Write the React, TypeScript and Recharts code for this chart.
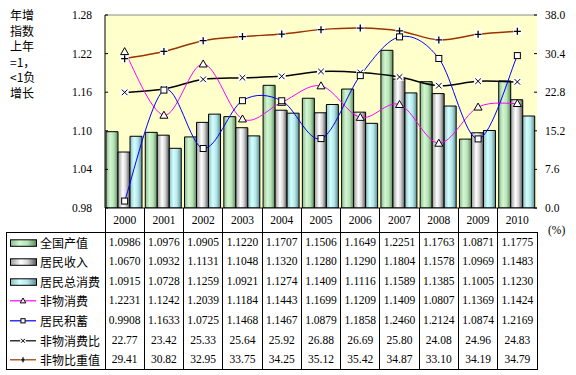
import React from "react";
import { Bar, CartesianGrid, ComposedChart, Line, ReferenceLine, XAxis, YAxis } from "recharts";

const years = ["2000", "2001", "2002", "2003", "2004", "2005", "2006", "2007", "2008", "2009", "2010"];
const gdp = [1.0986, 1.0976, 1.0905, 1.122, 1.1707, 1.1506, 1.1649, 1.2251, 1.1763, 1.0871, 1.1775];
const income = [1.067, 1.0932, 1.1131, 1.1048, 1.132, 1.128, 1.129, 1.1804, 1.1578, 1.0969, 1.1483];
const consumption = [1.0915, 1.0728, 1.1259, 1.0921, 1.1274, 1.1409, 1.1116, 1.1589, 1.1385, 1.1005, 1.123];
const nonMaterial = [1.2231, 1.1242, 1.2039, 1.1184, 1.1443, 1.1699, 1.1209, 1.1409, 1.0807, 1.1369, 1.1424];
const savings = [0.9908, 1.1633, 1.0725, 1.1468, 1.1467, 1.0879, 1.1858, 1.246, 1.2124, 1.0874, 1.2169];
const nonMatRatio = [22.77, 23.42, 25.33, 25.64, 25.92, 26.88, 26.69, 25.8, 24.08, 24.96, 24.83];
const nonMatShare = [29.41, 30.82, 32.95, 33.75, 34.25, 35.12, 35.42, 34.87, 33.1, 34.19, 34.79];

const leftTicks = [0.98, 1.04, 1.1, 1.16, 1.22, 1.28];
const rightTicks = [0, 7.6, 15.2, 22.8, 30.4, 38];
const titleLines = ["年增", "指数", "上年", "=1，", "<1负", "增长"];

const data = years.map((year, i) => ({
  year,
  gdp: gdp[i],
  income: income[i],
  consumption: consumption[i],
  nonMaterial: nonMaterial[i],
  savings: savings[i],
  nonMatRatio: nonMatRatio[i],
  nonMatShare: nonMatShare[i],
}));

const PLOT_L = 105;
const PLOT_R = 537;
const COL_W = (PLOT_R - PLOT_L) / years.length;
const TABLE_TOP = 231.5;
const ROW_H = 19.6;

const SERIF = '"Liberation Serif", "Times New Roman", serif';
const CJK = '"Noto Sans CJK SC", sans-serif';

// Excel-like smoothed line: Catmull-Rom through the points
function excelSmooth(context: any) {
  let pts: number[][] = [];
  return {
    areaStart() {},
    areaEnd() {},
    lineStart() {
      pts = [];
    },
    point(x: number, y: number) {
      pts.push([+x, +y]);
    },
    lineEnd() {
      const n = pts.length;
      if (!n) return;
      context.moveTo(pts[0][0], pts[0][1]);
      for (let i = 0; i < n - 1; i++) {
        const p0 = pts[i - 1] ?? pts[i];
        const p1 = pts[i];
        const p2 = pts[i + 1];
        const p3 = pts[i + 2] ?? p2;
        context.bezierCurveTo(
          p1[0] + (p2[0] - p0[0]) / 6,
          p1[1] + (p2[1] - p0[1]) / 6,
          p2[0] - (p3[0] - p1[0]) / 6,
          p2[1] - (p3[1] - p1[1]) / 6,
          p2[0],
          p2[1]
        );
      }
    },
  };
}

type Marker = "triangle" | "square" | "cross" | "plus";

function MarkerShape({ kind, cx, cy, s = 1 }: { kind: Marker; cx: number; cy: number; s?: number }) {
  if (kind === "triangle")
    return (
      <path
        d={`M${cx},${cy - 4 * s} L${cx + 4 * s},${cy + 3 * s} L${cx - 4 * s},${cy + 3 * s}Z`}
        fill="#fff"
        stroke="#000"
        strokeWidth={1}
      />
    );
  if (kind === "square")
    return <rect x={cx - 3 * s} y={cy - 3 * s} width={6 * s} height={6 * s} fill="#fff" stroke="#000" strokeWidth={1} />;
  const r = kind === "cross" ? 2.8 * s : 3.5 * s;
  return (
    <g>
      <rect x={cx - 4 * s} y={cy - 4 * s} width={8 * s} height={8 * s} fill="#fff" />
      {kind === "cross" ? (
        <path d={`M${cx - r},${cy - r} L${cx + r},${cy + r} M${cx - r},${cy + r} L${cx + r},${cy - r}`} stroke="#000" strokeWidth={1} />
      ) : (
        <path d={`M${cx - r},${cy} L${cx + r},${cy} M${cx},${cy - r} L${cx},${cy + r}`} stroke="#000" strokeWidth={1.3} />
      )}
    </g>
  );
}

const dot = (kind: Marker) => (props: any) => {
  const { cx, cy, index } = props;
  if (cx == null || cy == null) return <g key={`${kind}-${index}`} />;
  return <MarkerShape key={`${kind}-${index}`} kind={kind} cx={cx} cy={cy} />;
};

const tableRows = [
  { name: "全国产值", values: gdp, digits: 4, bar: "gGreen" },
  { name: "居民收入", values: income, digits: 4, bar: "gGrey" },
  { name: "居民总消费", values: consumption, digits: 4, bar: "gCyan" },
  { name: "非物消费", values: nonMaterial, digits: 4, line: "#FF00FF", marker: "triangle" as Marker },
  { name: "居民积蓄", values: savings, digits: 4, line: "#0000FF", marker: "square" as Marker },
  { name: "非物消费比", values: nonMatRatio, digits: 2, line: "#000000", marker: "cross" as Marker },
  { name: "非物比重值", values: nonMatShare, digits: 2, line: "#993300", marker: "plus" as Marker },
];

function Gradients() {
  return (
    <defs>
      <linearGradient id="gGreen" x1="0" y1="0" x2="1" y2="0">
        <stop offset="0%" stopColor="#8fba8f" />
        <stop offset="35%" stopColor="#d2f7d2" />
        <stop offset="65%" stopColor="#b9e3b9" />
        <stop offset="100%" stopColor="#5a8a5a" />
      </linearGradient>
      <linearGradient id="gGrey" x1="0" y1="0" x2="1" y2="0">
        <stop offset="0%" stopColor="#9a9a9a" />
        <stop offset="40%" stopColor="#ffffff" />
        <stop offset="65%" stopColor="#d6d6d6" />
        <stop offset="100%" stopColor="#555555" />
      </linearGradient>
      <linearGradient id="gCyan" x1="0" y1="0" x2="1" y2="0">
        <stop offset="0%" stopColor="#8fbcbc" />
        <stop offset="35%" stopColor="#d2ffff" />
        <stop offset="65%" stopColor="#b6e6e8" />
        <stop offset="100%" stopColor="#5a8c90" />
      </linearGradient>
    </defs>
  );
}

export default function App() {
  return (
    <div style={{ position: "absolute", left: 0, top: 0, width: 576, height: 375, background: "#fff", fontFamily: SERIF }}>
      {/* gradients shared by the bars and the legend swatches */}
      <svg width={0} height={0} style={{ position: "absolute" }}>
        <Gradients />
      </svg>

      {titleLines.map((t, i) => (
        <div
          key={t}
          style={{
            position: "absolute",
            left: 10,
            top: 7 + i * 15.5,
            fontFamily: CJK,
            fontSize: 12,
            lineHeight: "15px",
            color: "#000",
            whiteSpace: "nowrap",
          }}
        >
          {t}
        </div>
      ))}

      <div style={{ position: "absolute", left: 0, top: 0 }}>
        <ComposedChart
          width={576}
          height={232}
          data={data}
          margin={{ top: 15, right: 0, bottom: 0, left: 0 }}
          barCategoryGap={1}
          barGap={0}
        >
          <CartesianGrid yAxisId="left" fill="#FFFFCC" stroke="none" horizontal={false} vertical={false} />
          <XAxis
            dataKey="year"
            height={24}
            tickLine={false}
            axisLine={{ stroke: "#000" }}
            tick={{ fill: "#000", fontSize: 11.5, fontFamily: SERIF }}
            tickMargin={2}
            interval={0}
          />
          <YAxis
            yAxisId="left"
            width={105}
            domain={[0.98, 1.28]}
            ticks={leftTicks}
            allowDataOverflow
            tickFormatter={(v: number) => v.toFixed(2)}
            tick={{ fill: "#000", fontSize: 11.5, fontFamily: SERIF }}
            tickSize={-3}
            tickMargin={16}
            tickLine={{ stroke: "#000" }}
            axisLine={{ stroke: "#000" }}
          />
          <YAxis
            yAxisId="right"
            orientation="right"
            width={39}
            domain={[0, 38]}
            ticks={rightTicks}
            tickFormatter={(v: number) => v.toFixed(1)}
            tick={{ fill: "#000", fontSize: 11.5, fontFamily: SERIF, textAnchor: "start" }}
            tickSize={-3}
            tickMargin={11}
            tickLine={{ stroke: "#000" }}
            axisLine={false}
          />
          <ReferenceLine yAxisId="left" y={1.28} stroke="#8c8c8c" strokeWidth={1} />
          <Bar yAxisId="left" dataKey="gdp" fill="url(#gGreen)" stroke="#000" strokeWidth={1} isAnimationActive={false} />
          <Bar yAxisId="left" dataKey="income" fill="url(#gGrey)" stroke="#000" strokeWidth={1} isAnimationActive={false} />
          <Bar yAxisId="left" dataKey="consumption" fill="url(#gCyan)" stroke="#000" strokeWidth={1} isAnimationActive={false} />
          <Line
            yAxisId="right"
            dataKey="nonMatShare"
            type={excelSmooth as any}
            stroke="#993300"
            strokeWidth={1.5}
            dot={dot("plus")}
            activeDot={false}
            isAnimationActive={false}
          />
          <Line
            yAxisId="right"
            dataKey="nonMatRatio"
            type={excelSmooth as any}
            stroke="#000"
            strokeWidth={1.5}
            dot={dot("cross")}
            activeDot={false}
            isAnimationActive={false}
          />
          <Line
            yAxisId="left"
            dataKey="nonMaterial"
            type={excelSmooth as any}
            stroke="#FF00FF"
            strokeWidth={1}
            dot={dot("triangle")}
            activeDot={false}
            isAnimationActive={false}
          />
          <Line
            yAxisId="left"
            dataKey="savings"
            type={excelSmooth as any}
            stroke="#0000FF"
            strokeWidth={1}
            dot={dot("square")}
            activeDot={false}
            isAnimationActive={false}
          />
        </ComposedChart>
      </div>

      {/* column separators of the year row and the data table */}
      {years.map((_, i) => (
        <div
          key={`v${i}`}
          style={{ position: "absolute", left: PLOT_L + i * COL_W - 0.5, top: 208, width: 1, height: 369 - 208, background: "#000" }}
        />
      ))}
      <div
        style={{
          position: "absolute",
          left: 6,
          top: TABLE_TOP,
          width: PLOT_R - 6 - 1,
          height: 369 - TABLE_TOP - 1,
          border: "1px solid #000",
          boxSizing: "content-box",
        }}
      />

      {tableRows.map((row, r) => {
        const top = TABLE_TOP + 1 + r * ROW_H;
        return (
          <React.Fragment key={row.name}>
            <svg style={{ position: "absolute", left: 8, top, overflow: "visible" }} width={30} height={ROW_H}>
              {row.bar ? (
                <rect x={2.5} y={ROW_H / 2 - 3} width={26} height={6.5} fill={`url(#${row.bar})`} stroke="#000" strokeWidth={1} />
              ) : (
                <g>
                  <line x1={2} x2={28} y1={ROW_H / 2} y2={ROW_H / 2} stroke={row.line} strokeWidth={1.2} />
                  <MarkerShape kind={row.marker!} cx={15} cy={ROW_H / 2} s={0.7} />
                </g>
              )}
            </svg>
            <div
              style={{
                position: "absolute",
                left: 40,
                top,
                height: ROW_H,
                lineHeight: `${ROW_H}px`,
                fontFamily: CJK,
                fontSize: 12,
                color: "#000",
                whiteSpace: "nowrap",
              }}
            >
              {row.name}
            </div>
            {row.values.map((v, i) => (
              <div
                key={i}
                style={{
                  position: "absolute",
                  left: PLOT_L + i * COL_W,
                  top,
                  width: COL_W,
                  height: ROW_H,
                  lineHeight: `${ROW_H}px`,
                  textAlign: "center",
                  fontSize: 11.5,
                  color: "#000",
                }}
              >
                {v.toFixed(row.digits)}
              </div>
            ))}
          </React.Fragment>
        );
      })}

      <div style={{ position: "absolute", left: 548, top: 224, fontSize: 11.5, color: "#000" }}>(%)</div>
    </div>
  );
}
